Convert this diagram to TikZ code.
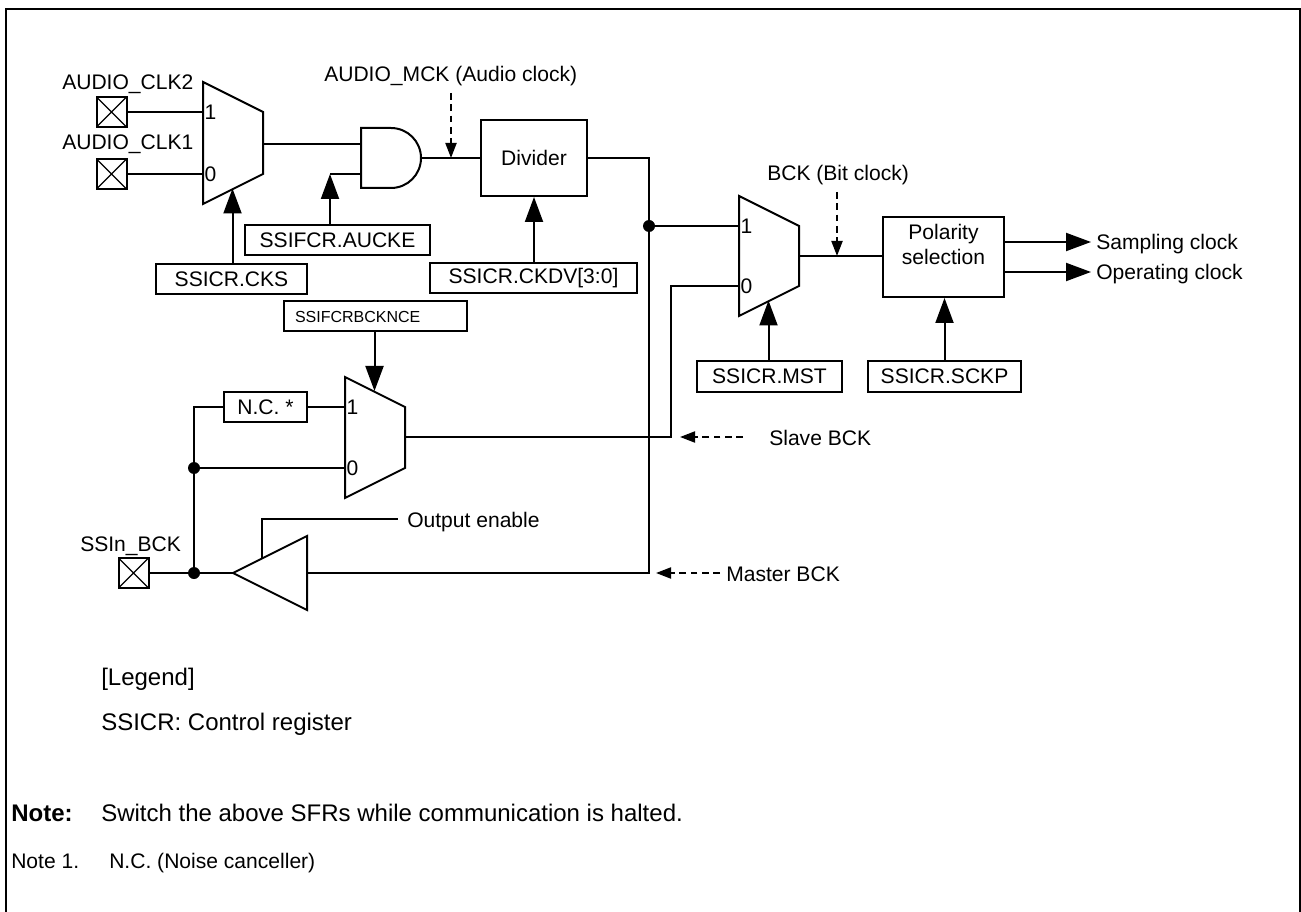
\documentclass[tikz,border=0pt]{standalone}
\usepackage{fontspec}
\setmainfont{Liberation Sans}
\usetikzlibrary{arrows.meta, positioning, calc}
\newcommand{\px}{0.75pt}
\begin{document}
\begin{tikzpicture}[
    x=\px, y=-\px,
    wire/.style={line width=1.5pt},
    sig/.style={wire, -{Triangle[length=25*\px, width=18*\px]}},
    probe/.style={wire, dash pattern=on 5pt off 3.5pt, -{Triangle[length=15*\px, width=11*\px]}},
    regbox/.style={draw, wire, inner sep=0pt, minimum height=30*\px, align=center},
    padbox/.style={draw, wire, inner sep=0pt, minimum size=30*\px,
                   path picture={\draw[line width=1pt] (path picture bounding box.north west) -- (path picture bounding box.south east)
                     (path picture bounding box.north east) -- (path picture bounding box.south west);}},
    lbl/.style={inner sep=0pt, anchor=base west},
    big/.style={font=\fontsize{18pt}{21pt}\selectfont},
    dotmark/.style={circle, fill=black, inner sep=0pt, minimum size=12*\px},
    font=\fontsize{15.8pt}{18.8pt}\selectfont,
  ]
    \useasboundingbox (0,0) rectangle (1301,912);
    % frame
    \draw[line width=1.6pt] (6,912) -- (6,9) -- (1300,9) -- (1300,912);

    % pads
    \node[padbox] (padA) at (111.5,112) {};
    \node[padbox] (padB) at (111.5,174) {};
    \node[padbox] (padC) at (133.5,573) {};
    \node[lbl] (padAlbl) at (62,90) {AUDIO\_CLK2};
    \node[lbl] (padBlbl) at (62,150) {AUDIO\_CLK1};
    \node[lbl] (padClbl) at (80,551) {SSIn\_BCK};

    % the three selectors
    \foreach \m/\x/\y/\h/\o in {muxA/203/82/62/62, muxB/739/196/60/60, muxC/345/377/61/60} {
      \coordinate (\m-in1) at (\x,\y+30);
      \coordinate (\m-in0) at (\x,\y+30+\h);
      \coordinate (\m-out) at (\x+60,\y+\o);
      \coordinate (\m-bot) at (\x+29.5,\y+\h+44.5);
      \coordinate (\m-top) at (\x+29.5,\y+14);
      \draw[wire] (\x,\y) -- (\x+60,\y+30) -- (\x+60,\y+30+\h) -- (\x,\y+60+\h) -- cycle;
      \node[inner sep=0pt] (\m-one) at (\x+7.5,\y+30) {1};
      \node[inner sep=0pt] (\m-zero) at (\x+7.5,\y+30+\h) {0};
    }

    % AND gate and buffer
    \draw[wire] (361,128) -- (391,128) arc (-90:90:30) -- (361,188) -- cycle;
    \coordinate (andA-in1) at (361,144);
    \coordinate (andA-in0) at (361,174);
    \coordinate (andA-out) at (421,158);
    \draw[wire] (233,573) -- (307,536) -- (307,610) -- cycle;
    \coordinate (bufA-in) at (307,573);
    \coordinate (bufA-out) at (233,573);
    \coordinate (bufA-en) at (262,558.5);

    % blocks and registers
    \node[regbox, minimum width=106*\px, minimum height=76*\px] (divider) at (534,158) {Divider};
    \node[regbox, minimum width=121*\px, minimum height=80*\px] (polarity) at (943.5,257) {Polarity\\selection\\~};
    \node[regbox, minimum width=151*\px] (cks) at (231.5,279) {SSICR.CKS};
    \node[regbox, line width=1.9pt, minimum width=185*\px] (aucke) at (337.5,240) {SSIFCR.AUCKE};
    \node[regbox, minimum width=207*\px] (ckdv) at (533.5,278.5) {SSICR.CKDV[3:0]};
    \node[regbox, minimum width=183*\px, inner xsep=11*\px, text width=161*\px, align=left,
          font=\fontsize{12pt}{14pt}\selectfont] (bckn) at (375.5,316.5) {SSIFCRBCKNCE};
    \node[regbox, minimum width=83*\px] (nc) at (265.5,407) {N.C. *};
    \node[regbox, minimum width=145*\px] (mst) at (769.5,376.5) {SSICR.MST};
    \node[regbox, minimum width=153*\px] (sckp) at (944.5,376.5) {SSICR.SCKP};

    % junctions
    \node[dotmark] (dotA) at (649,226) {};
    \node[dotmark] (dotB) at (194,468) {};
    \node[dotmark] (dotC) at (194,573) {};

    % wires
    \draw[wire] (padA) -- (muxA-in1);
    \draw[wire] (padB) -- (muxA-in0);
    \draw[wire] (muxA-out) -- (andA-in1);
    \draw[wire] (andA-out) -- (divider.west);
    \draw[wire] (divider.east) -| (dotA) |- (bufA-in);
    \draw[wire] (dotA) -- (muxB-in1);
    \draw[wire] (muxB-out) -- (polarity.west |- muxB-out);
    \draw[wire] (muxC-out) -| (671,286) -- (muxB-in0);
    \draw[wire] (muxC-in1) -- (nc.east);
    \draw[wire] (nc.west) -| (dotB) -- (dotC);
    \draw[wire] (dotB) -- (muxC-in0);
    \draw[wire] (padC) -- (bufA-out);
    \draw[wire] (bufA-en) |- (398,519);

    % control arrows
    \draw[sig] (cks.north -| muxA-bot) -- (muxA-bot);
    \draw[sig] (aucke.north -| 330,0) -- (330,174);
    \draw[wire] (330,174) -- (andA-in0);
    \draw[sig] (divider.south |- ckdv.north) -- (divider.south);
    \draw[sig] (muxB-bot |- mst.north) -- (muxB-bot);
    \draw[sig] (sckp.north) -- (polarity.south -| sckp.north);
    \draw[sig] (bckn.south -| muxC-top) -- (muxC-top);
    \draw[sig] (polarity.east |- 0,242) -- (1091,242);
    \draw[sig] (polarity.east |- 0,272) -- (1091,272);

    % probes
    \draw[probe] (451,93) -- (451,158);
    \draw[probe] (837,192) -- (837,256);
    \draw[probe] (743,437) -- (680,437);
    \draw[probe] (720,573) -- (656,573);

    % texts
    \node[lbl] (mckLbl) at (324,82) {AUDIO\_MCK (Audio clock)};
    \node[lbl] (bckLbl) at (767,181) {BCK (Bit clock)};
    \node[lbl] (sampLbl) at (1096,250) {Sampling clock};
    \node[lbl] (operLbl) at (1096,280) {Operating clock};
    \node[lbl] (slaveLbl) at (769,445) {Slave BCK};
    \node[lbl] (masterLbl) at (726,581) {Master BCK};
    \node[lbl] (enLbl) at (407,527) {Output enable};
    \node[lbl, big] (legLbl) at (101,685) {[Legend]};
    \node[lbl, big] (regLbl) at (101,730) {SSICR: Control register};
    \node[lbl, font=\fontsize{18pt}{21pt}\selectfont\bfseries] (noteLbl) at (11,821) {Note:};
    \node[lbl, big] (noteTxt) at (101,821) {Switch the above SFRs while communication is halted.};
    \node[lbl] (fnLbl) at (11,868) {Note 1.};
    \node[lbl] (fnTxt) at (109,868) {N.C. (Noise canceller)};
  \end{tikzpicture}
\end{document}
